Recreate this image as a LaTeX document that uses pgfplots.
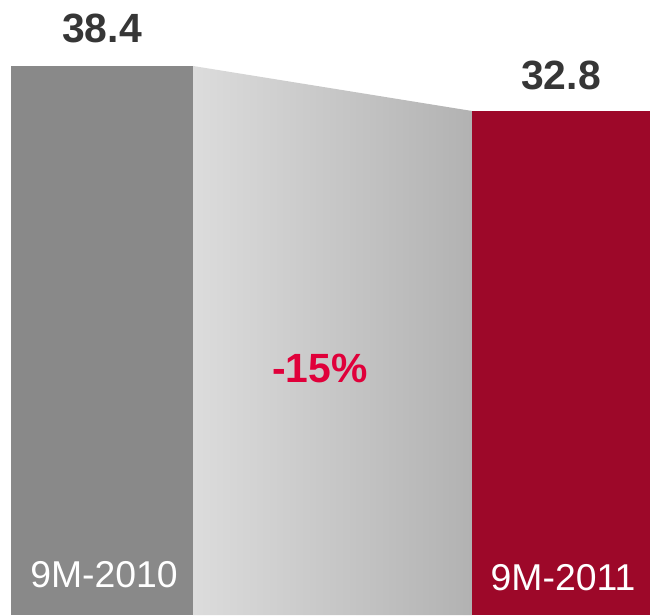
\documentclass[border=0pt]{standalone}
\usepackage{pgfplots}
\pgfplotsset{compat=1.18}
\usepackage{fontspec}
\setmainfont{Liberation Sans}
\definecolor{bargray}{HTML}{898989}
\definecolor{barred}{HTML}{9D0829}
\definecolor{gradL}{HTML}{DCDCDC}
\definecolor{gradR}{HTML}{B2B2B2}
\definecolor{valtxt}{HTML}{363636}
\definecolor{pcttxt}{HTML}{E0003A}
\begin{document}
\begin{tikzpicture}[x=1bp,y=1bp]
\begin{axis}[
  scale only axis,
  width=650bp, height=615bp,
  xmin=0, xmax=650,
  ymin=-29.92, ymax=46.61,
  hide axis,
  clip=false,
]
\path (rel axis cs:0,0) (rel axis cs:1,1);
% gradient connector
\addplot[draw=none, left color=gradL, right color=gradR, forget plot]
  coordinates {(193,-29.92) (193,38.4) (472,32.8) (472,-29.92)} -- cycle;
% bars (value 38.4 for 9M-2010, 32.8 for 9M-2011; base cut at the bottom edge)
\addplot[draw=none, fill=bargray, forget plot]
  coordinates {(11,-29.92) (11,38.4) (193,38.4) (193,-29.92)} -- cycle;
\addplot[draw=none, fill=barred, forget plot]
  coordinates {(472,-29.92) (472,32.8) (650,32.8) (650,-29.92)} -- cycle;
% labels
\node[anchor=base, text=valtxt, font=\fontsize{41}{48}\selectfont\bfseries] at (axis cs:102,41.38) {38.4};
\node[anchor=base, text=valtxt, font=\fontsize{41}{48}\selectfont\bfseries] at (axis cs:561,35.41) {32.8};
\node[anchor=base, text=pcttxt, font=\fontsize{41}{48}\selectfont\bfseries] at (axis cs:320,-1.05) {-15\%};
\node[anchor=base, text=white, font=\fontsize{37.5}{44}\selectfont] at (axis cs:104,-26.44) {9M-2010};
\node[anchor=base, text=white, font=\fontsize{37.5}{44}\selectfont] at (axis cs:563,-26.81) {9M-2011};
\end{axis}
\end{tikzpicture}
\end{document}
